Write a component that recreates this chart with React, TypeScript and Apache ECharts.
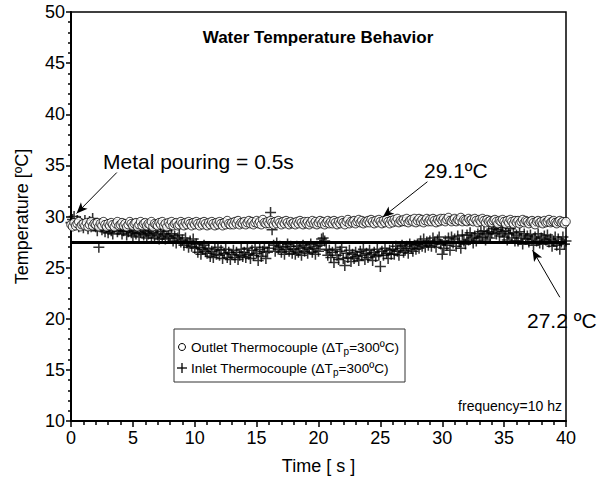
import React, { useEffect, useRef } from "react";
import * as echarts from "echarts";

// sampling interval of the plotted readings (s)
const SAMPLE_STEP = 0.125;

// Outlet thermocouple readings (°C), one every SAMPLE_STEP seconds from 0 to 40 s (one row = 1 s)
const outletTemp = [
  29.2, 29.0, 29.4, 29.1, 29.3, 29.5, 29.0, 29.2,
  29.3, 29.1, 29.4, 29.0, 29.2, 29.5, 29.1, 29.3,
  29.2, 29.4, 29.0, 29.3, 29.1, 29.5, 29.2, 29.0,
  29.3, 29.1, 29.4, 29.2, 29.0, 29.3, 29.5, 29.1,
  29.2, 29.4, 29.1, 29.3, 29.0, 29.2, 29.5, 29.3,
  29.1, 29.3, 29.4, 29.0, 29.2, 29.5, 29.1, 29.3,
  29.4, 29.1, 29.3, 29.2, 29.5, 29.0, 29.3, 29.2,
  29.1, 29.4, 29.2, 29.5, 29.1, 29.3, 29.0, 29.4,
  29.2, 29.5, 29.1, 29.3, 29.4, 29.1, 29.2, 29.5,
  29.3, 29.1, 29.4, 29.2, 29.5, 29.3, 29.1, 29.4,
  29.2, 29.5, 29.3, 29.1, 29.4, 29.2, 29.5, 29.3,
  29.1, 29.4, 29.2, 29.5, 29.3, 29.1, 29.4, 29.2,
  29.5, 29.3, 29.1, 29.4, 29.2, 29.6, 29.3, 29.2,
  29.4, 29.2, 29.5, 29.3, 29.6, 29.2, 29.4, 29.3,
  29.5, 29.2, 29.4, 29.6, 29.3, 29.5, 29.2, 29.4,
  29.6, 29.3, 29.5, 29.2, 29.7, 29.4, 29.3, 29.5,
  29.3, 29.6, 29.4, 29.2, 29.5, 29.3, 29.6, 29.4,
  29.2, 29.5, 29.3, 29.6, 29.4, 29.2, 29.5, 29.3,
  29.4, 29.2, 29.5, 29.3, 29.6, 29.4, 29.2, 29.5,
  29.3, 29.5, 29.2, 29.4, 29.6, 29.3, 29.5, 29.2,
  29.4, 29.6, 29.3, 29.5, 29.2, 29.4, 29.6, 29.3,
  29.5, 29.3, 29.6, 29.4, 29.2, 29.5, 29.3, 29.6,
  29.4, 29.2, 29.5, 29.7, 29.3, 29.5, 29.4, 29.6,
  29.3, 29.5, 29.7, 29.4, 29.6, 29.3, 29.5, 29.4,
  29.6, 29.4, 29.7, 29.5, 29.3, 29.6, 29.4, 29.7,
  29.5, 29.3, 29.6, 29.4, 29.7, 29.5, 29.3, 29.6,
  29.4, 29.7, 29.5, 29.8, 29.4, 29.6, 29.5, 29.7,
  29.5, 29.8, 29.4, 29.6, 29.7, 29.5, 29.8, 29.4,
  29.6, 29.8, 29.5, 29.7, 29.4, 29.6, 29.8, 29.5,
  29.7, 29.5, 29.8, 29.6, 29.4, 29.7, 29.5, 29.8,
  29.6, 29.8, 29.5, 29.7, 29.9, 29.6, 29.5, 29.7,
  29.8, 29.5, 29.7, 29.6, 29.9, 29.5, 29.7, 29.6,
  29.5, 29.8, 29.6, 29.7, 29.5, 29.8, 29.6, 29.4,
  29.7, 29.5, 29.8, 29.6, 29.4, 29.7, 29.5, 29.6,
  29.4, 29.6, 29.7, 29.5, 29.3, 29.6, 29.5, 29.7,
  29.5, 29.3, 29.6, 29.4, 29.7, 29.5, 29.3, 29.6,
  29.4, 29.6, 29.3, 29.5, 29.7, 29.4, 29.6, 29.5,
  29.3, 29.5, 29.6, 29.4, 29.2, 29.5, 29.6, 29.4,
  29.5, 29.3, 29.6, 29.4, 29.5, 29.7, 29.4, 29.5,
  29.6, 29.4, 29.3, 29.5, 29.6, 29.4, 29.5, 29.3,
  29.5,
];

// Inlet thermocouple readings (°C), same sampling (one row = 1 s)
const inletTemp = [
  29.4, 29.7, 30.0, 29.2, 29.6, 29.0, 29.5, 29.3,
  28.9, 29.6, 29.2, 28.8, 29.5, 29.0, 29.8, 29.1,
  29.0, 28.6, 27.0, 29.3, 28.7, 29.1, 28.5, 28.9,
  28.4, 29.0, 28.6, 28.3, 28.9, 29.2, 28.5, 28.7,
  28.8, 28.3, 28.6, 29.0, 28.2, 28.5, 28.9, 28.4,
  28.1, 28.6, 28.3, 28.8, 28.0, 28.4, 28.7, 28.2,
  28.5, 27.9, 28.3, 28.6, 28.1, 28.4, 27.9, 28.7,
  28.2, 27.8, 28.5, 28.0, 28.3, 27.8, 28.6, 28.1,
  27.9, 28.3, 27.6, 28.1, 27.4, 27.9, 28.2, 27.5,
  27.7, 27.2, 27.9, 27.4, 27.0, 27.6, 27.1, 27.8,
  26.9, 27.3, 26.5, 27.0, 26.3, 26.8, 27.2, 26.6,
  26.4, 26.9, 26.1, 26.6, 26.0, 26.8, 26.3, 27.0,
  26.2, 26.7, 25.9, 26.4, 26.8, 26.0, 26.5, 25.8,
  26.3, 26.7, 26.0, 26.5, 25.8, 26.2, 26.8, 26.1,
  26.5, 26.0, 26.9, 26.3, 25.9, 26.7, 26.2, 27.0,
  26.4, 25.7, 26.8, 26.1, 26.6, 27.0, 25.9, 26.5,
  26.9, 30.4, 28.7, 27.2, 26.6, 27.4, 26.8, 27.1,
  26.5, 27.0, 26.3, 26.8, 27.3, 26.6, 27.1, 26.4,
  26.8, 26.3, 27.1, 26.5, 26.9, 26.2, 27.2, 26.6,
  27.0, 26.4, 26.8, 27.3, 26.5, 26.9, 26.3, 27.1,
  26.6, 27.2, 27.8, 27.9, 27.6, 26.8, 26.2, 26.7,
  26.0, 26.5, 25.5, 26.8, 26.2, 25.8, 26.6, 27.0,
  25.9, 25.2, 26.4, 26.0, 26.7, 25.6, 26.3, 25.9,
  26.5, 26.1, 25.7, 26.6, 26.2, 26.8, 25.8, 26.4,
  26.0, 26.7, 26.3, 25.7, 26.5, 26.1, 26.8, 26.2,
  25.1, 26.6, 26.2, 26.9, 26.4, 25.9, 26.7, 26.3,
  26.8, 26.3, 27.1, 26.6, 26.2, 26.9, 27.2, 26.5,
  26.7, 27.1, 26.4, 27.3, 26.9, 26.6, 27.2, 26.8,
  27.3, 26.9, 27.6, 27.1, 27.8, 27.0, 27.5, 27.2,
  27.6, 27.1, 27.9, 27.4, 27.0, 27.7, 28.0, 27.3,
  26.3, 26.9, 27.6, 27.2, 27.9, 26.7, 28.0, 27.4,
  27.8, 27.1, 28.1, 27.5, 26.9, 28.2, 27.6, 27.3,
  28.2, 27.7, 28.4, 27.9, 27.4, 28.1, 27.6, 28.3,
  27.9, 28.5, 28.0, 28.6, 27.7, 28.3, 28.5, 27.9,
  28.4, 28.8, 29.0, 28.3, 28.7, 28.1, 28.9, 28.5,
  28.0, 28.6, 27.7, 28.3, 28.8, 27.9, 28.4, 27.6,
  28.2, 27.6, 28.5, 27.9, 27.3, 28.3, 27.8, 28.1,
  27.5, 28.2, 27.8, 27.2, 28.0, 27.6, 28.3, 27.4,
  27.9, 27.3, 28.1, 27.7, 28.2, 27.5, 27.8, 27.1,
  27.6, 28.0, 27.2, 27.8, 26.8, 27.5, 28.0, 27.3,
  27.6,
];

// mean inlet level drawn as a thick line
const inletMean = 27.45;
const timeRange = [0, 40];
const tempRange = [10, 50];

const titleText = "Water Temperature Behavior";
const xName = "Time [ s ]";
const yName = "Temperature [ºC]";
const noteFreq = "frequency=10 hz";
const notePour = "Metal pouring = 0.5s";
const noteOutlet = "29.1ºC";
const noteInlet = "27.2 ºC";
const legendOutlet = "Outlet Thermocouple (ΔT{sub|p}=300ºC)";
const legendInlet = "Inlet Thermocouple (ΔT{sub|p}=300ºC)";

// arrow annotations: [start, tip] in data coordinates
const arrowPour = [[3.7, 34.3], [0.45, 30.3]];
const arrowOutlet = [[28.8, 33.4], [25.2, 29.95]];
const arrowInlet = [[39.5, 22.1], [37.3, 26.7]];

const FONT = "'Liberation Sans', Arial, Helvetica, sans-serif";
const PLUS = "path://M0,4.3H10V5.7H0Z M4.3,0H5.7V10H4.3Z";

export default function App() {
  const ref = useRef<HTMLDivElement>(null);

  useEffect(() => {
    if (!ref.current) return;
    const chart = echarts.init(ref.current, null, { renderer: "svg" });

    const outletData = outletTemp.map((v, i) => [i * SAMPLE_STEP, v]);
    const inletData = inletTemp.map((v, i) => [i * SAMPLE_STEP, v]);
    const arrowLine = (a: number[][]) => [{ coord: a[0] }, { coord: a[1] }];

    const axisCommon = {
      type: "value" as const,
      interval: 5,
      axisLine: { show: true, lineStyle: { color: "#000", width: 2 } },
      axisTick: { show: true, inside: false, length: 6, lineStyle: { color: "#000", width: 1.5 } },
      minorTick: { show: true, splitNumber: 5, length: 4, lineStyle: { color: "#000", width: 1.5 } },
      splitLine: { show: false },
      minorSplitLine: { show: false },
      nameLocation: "middle" as const,
      nameTextStyle: { fontSize: 18, color: "#000", fontFamily: FONT },
    };

    const legendRich = {
      sub: { fontSize: 10, fontFamily: FONT, fill: "#000", padding: [8, 0, 0, 0] },
    };

    chart.setOption({
      animation: false,
      backgroundColor: "#fff",
      grid: {
        left: 71,
        right: 50,
        top: 12,
        bottom: 62,
        show: true,
        borderColor: "#000",
        borderWidth: 1.5,
        backgroundColor: "transparent",
      },
      xAxis: {
        ...axisCommon,
        min: timeRange[0],
        max: timeRange[1],
        name: xName,
        nameGap: 36,
        axisLabel: { fontSize: 18, color: "#000", margin: 8, fontFamily: FONT },
      },
      yAxis: {
        ...axisCommon,
        min: tempRange[0],
        max: tempRange[1],
        name: yName,
        nameGap: 40,
        axisTick: { ...axisCommon.axisTick, length: 5 },
        minorTick: { ...axisCommon.minorTick, length: 3 },
        axisLabel: { fontSize: 18, color: "#000", margin: 6, fontFamily: FONT },
      },
      series: [
        {
          type: "line",
          data: [
            [timeRange[0], inletMean],
            [timeRange[1], inletMean],
          ],
          symbol: "none",
          lineStyle: { color: "#000", width: 3 },
          z: 1,
          markLine: {
            silent: true,
            symbol: ["none", "arrow"],
            symbolSize: [7, 11],
            label: { show: false },
            lineStyle: { color: "#000", width: 1, type: "solid" },
            data: [arrowLine(arrowPour), arrowLine(arrowOutlet), arrowLine(arrowInlet)],
            z: 10,
          },
        },
        {
          type: "scatter",
          data: inletData,
          symbol: PLUS,
          symbolSize: 11,
          itemStyle: { color: "#000" },
          z: 2,
        },
        {
          type: "scatter",
          data: outletData,
          symbol: "circle",
          symbolSize: 8.5,
          itemStyle: { color: "#fff", borderColor: "#000", borderWidth: 1 },
          z: 3,
        },
      ],
      graphic: [
        {
          type: "text",
          x: 318,
          y: 37,
          style: {
            text: titleText,
            font: `bold 17px ${FONT}`,
            fill: "#000",
            textAlign: "center",
            textVerticalAlign: "middle",
          },
          z: 20,
        },
        {
          type: "text",
          x: 103,
          y: 161,
          style: { text: notePour, font: `21px ${FONT}`, fill: "#000", textAlign: "left", textVerticalAlign: "middle" },
          z: 20,
        },
        {
          type: "text",
          x: 424,
          y: 170,
          style: { text: noteOutlet, font: `21px ${FONT}`, fill: "#000", textAlign: "left", textVerticalAlign: "middle" },
          z: 20,
        },
        {
          type: "text",
          x: 527,
          y: 320,
          style: { text: noteInlet, font: `21px ${FONT}`, fill: "#000", textAlign: "left", textVerticalAlign: "middle" },
          z: 20,
        },
        {
          type: "text",
          x: 562,
          y: 406,
          style: { text: noteFreq, font: `14px ${FONT}`, fill: "#000", textAlign: "right", textVerticalAlign: "middle" },
          z: 20,
        },
        {
          type: "rect",
          shape: { x: 174, y: 329, width: 231, height: 53 },
          style: { fill: "#fff", stroke: "#333", lineWidth: 1 },
          z: 20,
        },
        {
          type: "circle",
          shape: { cx: 182, cy: 347, r: 3.5 },
          style: { fill: "#fff", stroke: "#000", lineWidth: 1 },
          z: 21,
        },
        {
          type: "line",
          shape: { x1: 177, y1: 368, x2: 187, y2: 368 },
          style: { stroke: "#000", lineWidth: 1.3 },
          z: 21,
        },
        {
          type: "line",
          shape: { x1: 182, y1: 363, x2: 182, y2: 373 },
          style: { stroke: "#000", lineWidth: 1.3 },
          z: 21,
        },
        {
          type: "text",
          x: 191,
          y: 347,
          style: {
            text: legendOutlet,
            font: `13.6px ${FONT}`,
            fill: "#000",
            textAlign: "left",
            textVerticalAlign: "middle",
            rich: legendRich,
          },
          z: 21,
        },
        {
          type: "text",
          x: 191,
          y: 368,
          style: {
            text: legendInlet,
            font: `13.6px ${FONT}`,
            fill: "#000",
            textAlign: "left",
            textVerticalAlign: "middle",
            rich: legendRich,
          },
          z: 21,
        },
      ],
    });

    return () => chart.dispose();
  }, []);

  return (
    <div
      ref={ref}
      style={{ position: "fixed", left: 0, top: 0, width: 616, height: 483, background: "#fff" }}
    />
  );
}
